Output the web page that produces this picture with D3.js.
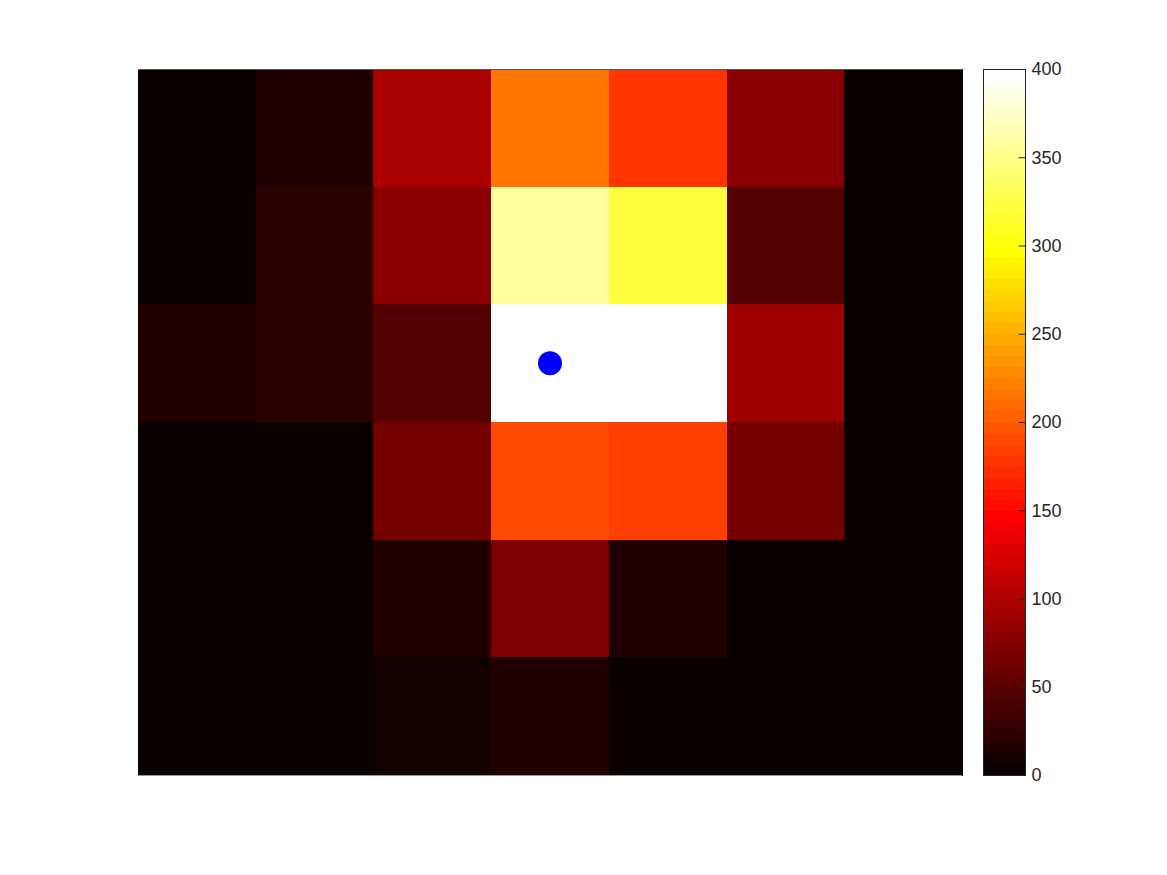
<!DOCTYPE html>
<html>
<head>
<meta charset="utf-8">
<script src="https://cdn.jsdelivr.net/npm/d3@7"></script>
<style>
  html, body { margin: 0; padding: 0; background: #fff; }
  text { font-family: "Liberation Sans", Arial, Helvetica, sans-serif; }
</style>
</head>
<body>
<svg id="chart" width="1167" height="875"></svg>
<script>
// ---- data ----
const columns = [1, 2, 3, 4, 5, 6, 7];
const rows = [1, 2, 3, 4, 5, 6];
const values = [
  [3, 15, 97, 215, 178, 78, 3],
  [3, 21, 78, 360, 322, 47, 3],
  [15, 21, 47, 420, 410, 90, 3],
  [3, 3, 65, 190, 184, 65, 3],
  [3, 3, 15, 72, 15, 3, 3],
  [3, 3, 9, 15, 3, 3, 3]
];
const marker = { col: 4, row: 3 };
const colorTicks = [0, 50, 100, 150, 200, 250, 300, 350, 400];
const colorDomain = [0, 400];

(function () {
// ---- MATLAB "hot" colormap (64 levels) ----
const M = 64, N = Math.floor(3 / 8 * M);
const hot = d3.range(1, M + 1).map(i => {
  const r = i <= N ? i / N : 1;
  const g = i <= N ? 0 : (i <= 2 * N ? (i - N) / N : 1);
  const b = i <= 2 * N ? 0 : (i - 2 * N) / (M - 2 * N);
  return d3.rgb(Math.round(r * 255), Math.round(g * 255), Math.round(b * 255)).formatHex();
});

const svg = d3.select("#chart");
const pL = 138, pR = 962, pT = 69, pB = 775;

const x = d3.scaleBand().domain(columns).range([pL, pR]).paddingInner(0).paddingOuter(0);
const y = d3.scaleBand().domain(rows).range([pT, pB]).paddingInner(0).paddingOuter(0);
const color = d3.scaleQuantize().domain(colorDomain).range(hot);
const colorOf = v => v >= colorDomain[1] ? hot[M - 1] : (v <= colorDomain[0] ? hot[0] : color(v));

const cells = [];
values.forEach((row, ri) => row.forEach((v, ci) => cells.push({ r: rows[ri], c: columns[ci], v })));

svg.append("g").selectAll("rect").data(cells).join("rect")
  .attr("x", d => x(d.c))
  .attr("y", d => y(d.r))
  .attr("width", x.bandwidth() + 0.5)
  .attr("height", y.bandwidth() + 0.5)
  .attr("fill", d => colorOf(d.v))
  .attr("shape-rendering", "crispEdges");

// axes box top/bottom edges
svg.append("line").attr("x1", pL).attr("x2", pR).attr("y1", pT + 0.5).attr("y2", pT + 0.5)
  .attr("stroke", "#555").attr("stroke-width", 1);
svg.append("line").attr("x1", pL).attr("x2", pR).attr("y1", pB + 0.5).attr("y2", pB + 0.5)
  .attr("stroke", "#999").attr("stroke-width", 1);

// marker
svg.append("circle")
  .attr("cx", x(marker.col) + x.bandwidth() / 2)
  .attr("cy", y(marker.row) + y.bandwidth() / 2)
  .attr("r", 12)
  .attr("fill", "#0000ff");

// ---- colorbar ----
const cbL = 983, cbR = 1025;
const cy = d3.scaleLinear().domain(colorDomain).range([pB, pT]);
const step = (colorDomain[1] - colorDomain[0]) / M;
svg.append("g").selectAll("rect").data(hot).join("rect")
  .attr("x", cbL)
  .attr("width", cbR - cbL)
  .attr("y", (d, i) => cy((i + 1) * step))
  .attr("height", (d, i) => cy(i * step) - cy((i + 1) * step) + 0.5)
  .attr("fill", d => d)
  .attr("shape-rendering", "crispEdges");

svg.append("rect")
  .attr("x", cbL + 0.5).attr("y", pT + 0.5)
  .attr("width", cbR - cbL).attr("height", pB - pT)
  .attr("fill", "none").attr("stroke", "#262626").attr("stroke-width", 1);

const axis = svg.append("g")
  .attr("transform", `translate(${cbR + 0.5},0)`)
  .call(d3.axisRight(cy).tickValues(colorTicks).tickSize(-7).tickPadding(6).tickFormat(d3.format("d")));
axis.select(".domain").remove();
axis.selectAll(".tick line").attr("stroke", "#262626");
axis.selectAll(".tick text").attr("fill", "#262626").style("font-size", "18px");
})();
</script>
</body>
</html>
